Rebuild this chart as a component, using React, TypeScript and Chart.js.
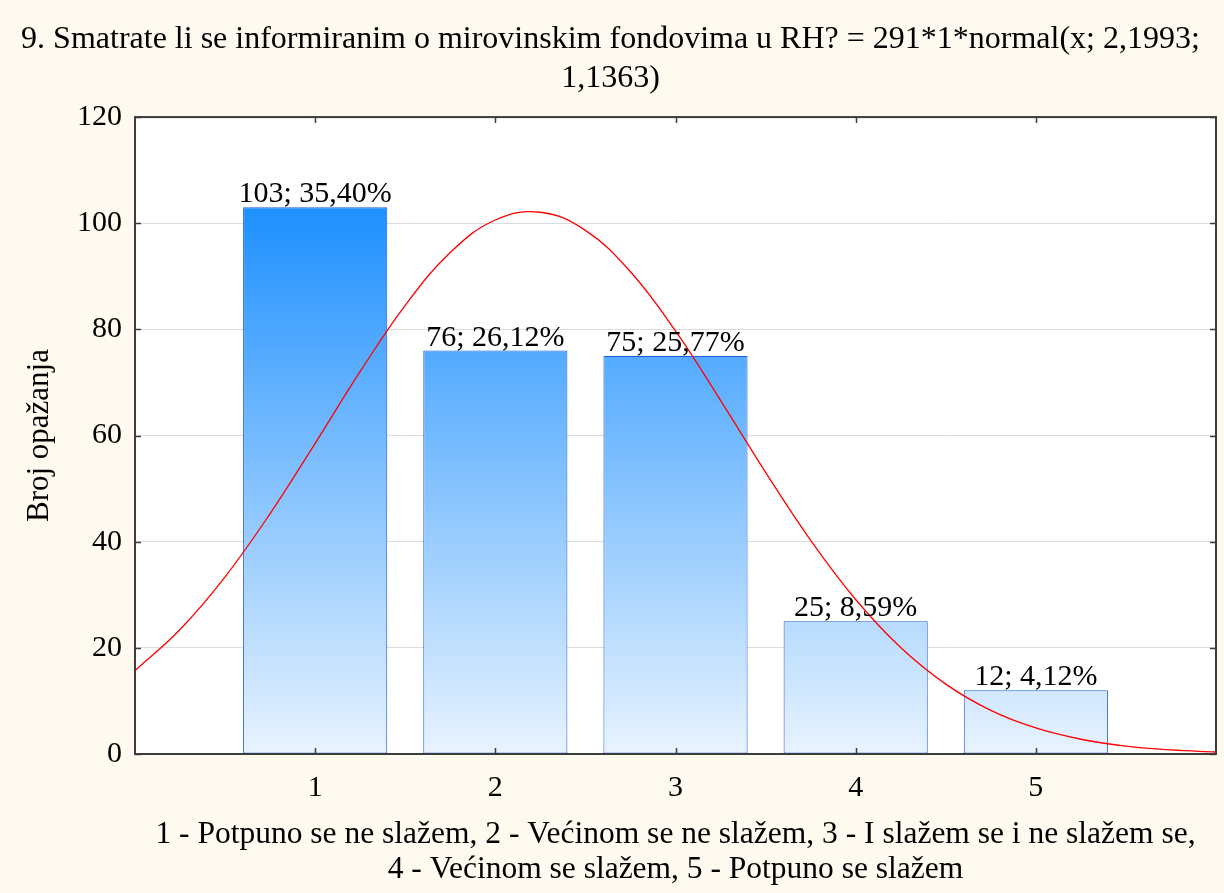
import { useEffect, useRef } from 'react';
import { Chart, registerables } from 'chart.js';
Chart.register(...registerables);

const categories = [1, 2, 3, 4, 5];
const counts = [103, 76, 75, 25, 12];
const percentLabels = ['35,40%', '26,12%', '25,77%', '8,59%', '4,12%'];
const curveX = [0, 0.25, 0.5, 0.75, 1, 1.25, 1.5, 1.75, 2, 2.25, 2.5, 2.75, 3, 3.25, 3.5, 3.75, 4, 4.25, 4.5, 4.75, 5, 5.25, 5.5, 5.75, 6];
const curveY = [15.7, 23.46, 33.39, 45.3, 58.54, 72.07, 84.54, 94.49, 100.61, 102.07, 98.65, 90.85, 79.71, 66.63, 53.06, 40.26, 29.11, 20.05, 13.16, 8.22, 4.9, 2.78, 1.5, 0.77, 0.38];
const xTickValues = [1, 2, 3, 4, 5];
const yTickValues = [0, 20, 40, 60, 80, 100, 120];
const titleLines = ['9. Smatrate li se informiranim o mirovinskim fondovima u RH? = 291*1*normal(x; 2,1993;', '1,1363)'];
const xTitleLines = ['1 - Potpuno se ne slažem, 2 - Većinom se ne slažem, 3 - I slažem se i ne slažem se,', '4 - Većinom se slažem, 5 - Potpuno se slažem'];
const yTitle = 'Broj opažanja';

const FONT = "'Liberation Serif', 'Times New Roman', serif";
const TICK_FS = 30;
const LABEL_FS = 30;

export default function App() {
  const ref = useRef<HTMLCanvasElement | null>(null);
  useEffect(() => {
    if (!ref.current) return;
    const bgPlugin = {
      id: 'bg',
      beforeDraw(chart: any) {
        const { ctx, chartArea, width, height } = chart;
        ctx.save();
        ctx.fillStyle = '#fffaf0';
        ctx.fillRect(0, 0, width, height);
        ctx.fillStyle = '#ffffff';
        ctx.fillRect(chartArea.left, chartArea.top, chartArea.right - chartArea.left, chartArea.bottom - chartArea.top);
        ctx.restore();
      },
    };
    const labelPlugin = {
      id: 'barLabels',
      afterDatasetsDraw(chart: any) {
        const { ctx } = chart;
        const meta = chart.getDatasetMeta(0);
        ctx.save();
        ctx.font = `${LABEL_FS}px ${FONT}`;
        ctx.fillStyle = '#000';
        ctx.textAlign = 'center';
        ctx.textBaseline = 'alphabetic';
        meta.data.forEach((el: any, i: number) => {
          ctx.fillText(`${counts[i]}; ${percentLabels[i]}`, el.x, el.y - 5);
        });
        ctx.restore();
      },
    };
    const framePlugin = {
      id: 'frame',
      afterDraw(chart: any) {
        const { ctx, chartArea } = chart;
        const { left, right, top, bottom } = chartArea;
        const xs = chart.scales.x;
        const ys = chart.scales.y;
        ctx.save();
        ctx.strokeStyle = '#3c3c3c';
        ctx.lineWidth = 1.5;
        ctx.beginPath();
        xTickValues.forEach((v) => {
          const px = Math.round(xs.getPixelForValue(v)) + 0.5;
          ctx.moveTo(px, bottom);
          ctx.lineTo(px, bottom - 6);
          ctx.moveTo(px, top);
          ctx.lineTo(px, top + 6);
        });
        yTickValues.forEach((v) => {
          const py = Math.round(ys.getPixelForValue(v)) + 0.5;
          ctx.moveTo(left, py);
          ctx.lineTo(left + 6, py);
          ctx.moveTo(right, py);
          ctx.lineTo(right - 6, py);
        });
        ctx.stroke();
        ctx.lineWidth = 2;
        ctx.strokeRect(left, top, right - left, bottom - top);
        ctx.restore();
      },
    };
    const maxCount = Math.max(...counts);
    const chart = new Chart(ref.current, {
      type: 'bar',
      data: {
        datasets: [
          {
            type: 'bar',
            data: categories.map((c, i) => ({ x: c, y: counts[i] })),
            backgroundColor: (c: any) => {
              const ch = c.chart;
              if (!ch.chartArea) return 'rgb(90,170,255)';
              const ys = ch.scales.y;
              const t = ys.getPixelForValue(maxCount);
              const b = ys.getPixelForValue(0);
              const g = ch.ctx.createLinearGradient(0, t, 0, b);
              g.addColorStop(0, 'rgb(30,144,255)');
              g.addColorStop(1, 'rgb(232,243,254)');
              return g;
            },
            borderColor: '#1d5cd8',
            borderWidth: 1,
            borderSkipped: false,
            barPercentage: 0.8,
            categoryPercentage: 1,
            order: 1,
          } as any,
          {
            type: 'line',
            data: curveX.map((x, i) => ({ x, y: curveY[i] })),
            borderColor: '#ff0000',
            borderWidth: 1.3,
            pointRadius: 0,
            tension: 0.4,
            fill: false,
            order: 0,
          } as any,
        ],
      },
      options: {
        animation: false,
        responsive: true,
        maintainAspectRatio: false,
        layout: { padding: { top: 0, left: 0, right: 3, bottom: 0 } },
        plugins: {
          legend: { display: false },
          tooltip: { enabled: false },
          title: {
            display: true,
            text: titleLines,
            color: '#000',
            font: { family: FONT, size: 32, weight: 'normal', lineHeight: 1.22 },
            padding: { top: 20, bottom: 19 },
          },
        },
        scales: {
          x: {
            type: 'linear',
            min: 0,
            max: 6,
            offset: false,
            grid: { display: false },
            border: { display: false },
            ticks: {
              stepSize: 1,
              color: '#000',
              padding: 8,
              font: { family: FONT, size: TICK_FS },
              callback: (v: any) => (xTickValues.includes(Number(v)) ? String(v) : ''),
            },
            title: {
              display: true,
              text: xTitleLines,
              color: '#000',
              font: { family: FONT, size: 31.5, lineHeight: 1.11 },
              padding: { top: 0, bottom: 6 },
            },
            afterFit: (s: any) => {
              s.height = 139;
            },
          },
          y: {
            min: 0,
            max: 120,
            grid: { color: '#dcdcdc', lineWidth: 1, drawTicks: false },
            border: { display: false },
            ticks: {
              stepSize: 20,
              color: '#000',
              padding: 13,
              font: { family: FONT, size: TICK_FS },
            },
            title: {
              display: true,
              text: yTitle,
              color: '#000',
              font: { family: FONT, size: 31, lineHeight: 1.2 },
              padding: { top: 21, bottom: 0 },
            },
            afterFit: (s: any) => {
              s.width = 135;
            },
          },
        },
      } as any,
      plugins: [bgPlugin, labelPlugin, framePlugin],
    });
    return () => chart.destroy();
  }, []);
  return (
    <div style={{ position: 'fixed', left: 0, top: 0, width: 1224, height: 893, background: '#fffaf0' }}>
      <canvas ref={ref} />
    </div>
  );
}
